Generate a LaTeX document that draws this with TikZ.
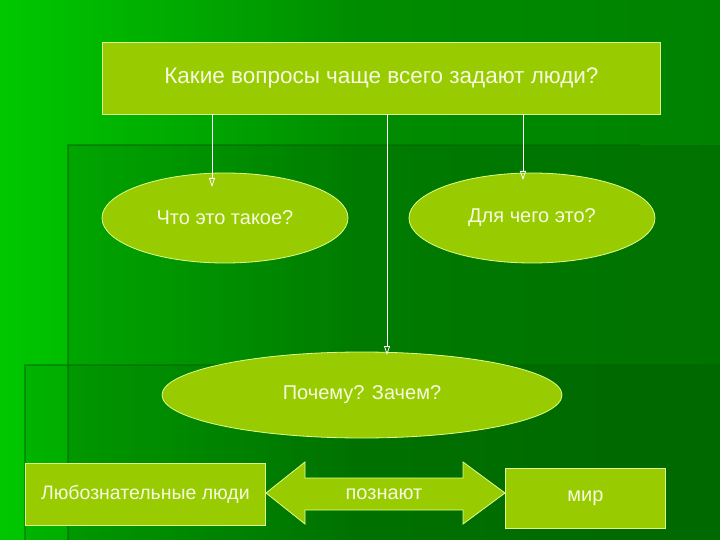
\documentclass[tikz,border=0pt]{standalone}
\usepackage{fontspec}
\setmainfont{Liberation Sans}
\usetikzlibrary{shapes.geometric,arrows.meta}
\definecolor{fillc}{RGB}{153,204,0}
\definecolor{edgec}{RGB}{220,255,140}
\definecolor{txt}{RGB}{245,250,225}
\tikzset{
  box/.style={draw=edgec,line width=0.8pt,fill=fillc,text=txt,font=\fontsize{20}{24}\selectfont},
  oval/.style={ellipse,draw=edgec,line width=0.8pt,fill=fillc,text=txt,font=\fontsize{20}{24}\selectfont},
  conn/.style={draw=white,line width=0.8pt,-{Triangle[open,length=9pt,width=6pt]}}
}
\begin{document}
\begin{tikzpicture}[x=1pt,y=-1pt]
\useasboundingbox (0,0) rectangle (720,540);
\shade[left color={rgb,255:red,0;green,200;blue,0},right color={rgb,255:red,0;green,130;blue,0},middle color={rgb,255:red,0;green,140;blue,0}] (0,0) rectangle (720,540);
\fill[black,opacity=0.12] (68,145) rectangle (720,540);
\fill[black,opacity=0.08] (25,365) rectangle (720,540);
\draw[black!60!green,opacity=0.5,line width=2pt] (68,540) -- (68,145) -- (640,145);
\draw[black!60!green,opacity=0.5,line width=2pt] (25,540) -- (25,365) -- (720,365);
\node[box,minimum width=558pt,minimum height=72pt,anchor=north west,font=\fontsize{22.5}{26}\selectfont] (q) at (102,42) {Какие вопросы чаще всего задают люди?};
\node[oval,minimum width=246pt,minimum height=90pt] (a) at (225,218) {Что это такое?};
\node[oval,minimum width=246pt,minimum height=90pt] (b) at (532,218) {Для чего это?};
\node[oval,minimum width=400pt,minimum height=86pt] (c) at (362,395) {Почему? Зачем?};
\node[box,minimum width=240pt,minimum height=62pt,anchor=north west,font=\fontsize{19.5}{23}\selectfont] (l) at (25,463) {Любознательные люди};
\node[box,minimum width=160pt,minimum height=60pt,anchor=north west] (r) at (505,468) {мир};
\filldraw[draw=edgec,line width=0.8pt,fill=fillc] (266,493) -- (305,462) -- (305,478) -- (463,478) -- (463,462) -- (505,493) -- (463,524) -- (463,510) -- (305,510) -- (305,524) -- cycle;
\node[text=txt,font=\fontsize{20}{24}\selectfont] (m) at (384,494) {познают};
\coordinate (a1) at (212,114); \coordinate (a2) at (212,187);
\coordinate (b1) at (523,114); \coordinate (b2) at (523,180);
\coordinate (c1) at (387,114); \coordinate (c2) at (387,355);
\draw[conn] (a1) -- (a2);
\draw[conn] (b1) -- (b2);
\draw[conn] (c1) -- (c2);
\end{tikzpicture}
\end{document}
